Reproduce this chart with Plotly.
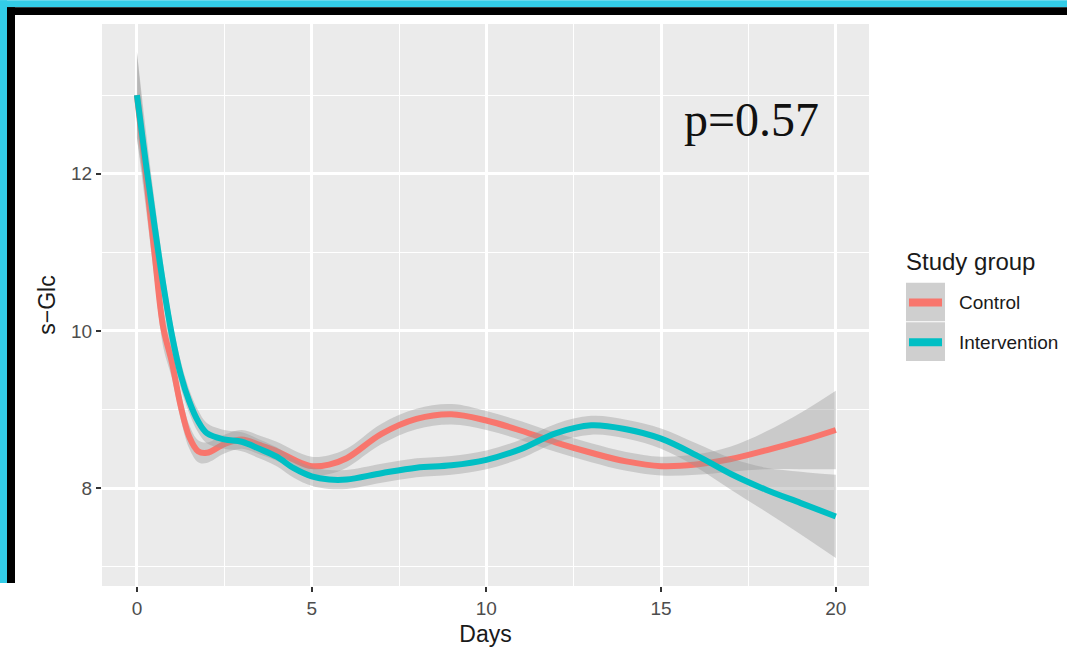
import plotly.graph_objects as go

# ---- data ----
days = [0, 0.25, 0.5, 0.75, 1, 1.25, 1.5, 1.75, 2, 2.5, 3, 3.5, 4, 4.5, 5, 5.5, 6,
        7, 8, 9, 10, 11, 12, 13, 14, 15, 16, 17, 18, 19, 20]

control = [13.0, 12.0, 11.0, 10.05, 9.6, 9.05, 8.65, 8.47, 8.45, 8.56, 8.62, 8.55,
           8.47, 8.36, 8.28, 8.3, 8.38, 8.69, 8.88, 8.94, 8.86, 8.73, 8.58, 8.45,
           8.34, 8.28, 8.3, 8.37, 8.48, 8.6, 8.74]
control_se = [0.55, 0.42, 0.32, 0.25, 0.2, 0.17, 0.15, 0.14, 0.13, 0.12, 0.12, 0.12,
              0.12, 0.12, 0.12, 0.12, 0.12, 0.13, 0.13, 0.13, 0.12, 0.12, 0.12, 0.12,
              0.12, 0.12, 0.13, 0.16, 0.24, 0.36, 0.5]

intervention = [13.0, 12.15, 11.35, 10.6, 9.95, 9.45, 9.1, 8.85, 8.7, 8.62, 8.59, 8.5,
                8.4, 8.25, 8.15, 8.11, 8.11, 8.19, 8.26, 8.29, 8.36, 8.5, 8.7, 8.8,
                8.75, 8.63, 8.42, 8.18, 7.98, 7.81, 7.64]
intervention_se = [0.55, 0.42, 0.32, 0.25, 0.2, 0.17, 0.15, 0.14, 0.13, 0.12, 0.12, 0.12,
                   0.12, 0.12, 0.12, 0.12, 0.12, 0.12, 0.12, 0.12, 0.12, 0.12, 0.12, 0.12,
                   0.12, 0.13, 0.15, 0.2, 0.28, 0.4, 0.53]

groups = ["Control", "Intervention"]
colors = ["#F8766D", "#00BFC4"]
legend_title = "Study group"
x_ticks = [0, 5, 10, 15, 20]
y_ticks = [8, 10, 12]
p_label = "p=0.57"

W, H = 1070, 655
L, R, T, B = 102, 869, 24, 591

fig = go.Figure()
ribbon = "rgba(153,153,153,0.4)"
for name, y, se, col in [(groups[0], control, control_se, colors[0]),
                         (groups[1], intervention, intervention_se, colors[1])]:
    lo = [a - b for a, b in zip(y, se)]
    hi = [a + b for a, b in zip(y, se)]
    fig.add_trace(go.Scatter(x=days, y=lo, mode="lines", line=dict(width=0, shape="spline"),
                             showlegend=False, hoverinfo="skip"))
    fig.add_trace(go.Scatter(x=days, y=hi, mode="lines", line=dict(width=0, shape="spline"),
                             fill="tonexty", fillcolor=ribbon, showlegend=False,
                             hoverinfo="skip"))
    fig.add_trace(go.Scatter(x=days, y=y, mode="lines", name=name, showlegend=False,
                             line=dict(color=col, width=6, shape="spline")))

def px_x(p):
    return (p - L) / (R - L)

def px_y(p):
    return (B - p) / (B - T)

def rect(x0, x1, y0, y1, color):
    return dict(type="rect", xref="paper", yref="paper", x0=px_x(x0), x1=px_x(x1),
                y0=px_y(y1), y1=px_y(y0), fillcolor=color, line=dict(width=0), layer="above")

shapes = [
    rect(0, W - 3, 0, 7, "#33CDE8"),
    rect(0, 7, 0, 588, "#33CDE8"),
    rect(7, W - 3, 7, 15, "#000000"),
    rect(7, 15, 7, 588, "#000000"),
]
# custom legend (ggplot style keys)
key_top = [285, 325]
for i, (name, col) in enumerate(zip(groups, colors)):
    y0 = key_top[i]
    shapes.append(rect(906, 945, y0, y0 + 39, "#CFCFCF"))
    shapes.append(rect(909, 942, y0 + 16, y0 + 24, col))
    fig.add_annotation(xref="paper", yref="paper", x=px_x(957), y=px_y(y0 + 20),
                       xanchor="left", yanchor="middle", text=name, showarrow=False,
                       font=dict(size=19, color="#1A1A1A"))
fig.add_annotation(xref="paper", yref="paper", x=px_x(904), y=px_y(264),
                   xanchor="left", yanchor="middle", text=legend_title, showarrow=False,
                   font=dict(size=24, color="#1A1A1A"))
fig.update_layout(shapes=shapes)

fig.add_annotation(x=17.6, y=12.69, xref="x", yref="y", text=p_label, showarrow=False,
                   font=dict(family="Liberation Serif", size=48, color="#111111"))

fig.update_layout(
    width=W, height=H, showlegend=False,
    margin=dict(l=L, r=W - R, t=T, b=H - B, pad=0),
    paper_bgcolor="white", plot_bgcolor="#EBEBEB",
    font=dict(family="Liberation Sans, Arial", color="#4D4D4D"),
    xaxis=dict(range=[-1.0, 20.95], tickvals=x_ticks, ticks="outside", ticklen=5, tickwidth=2,
               tickcolor="#333333", showgrid=True, gridcolor="white", gridwidth=2.5,
               minor=dict(dtick=2.5, showgrid=True, gridcolor="white", gridwidth=1.2),
               zeroline=False, showline=False, tickfont=dict(size=19, color="#4D4D4D"),
               title=dict(text="Days", font=dict(size=23, color="#1A1A1A"), standoff=8)),
    yaxis=dict(range=[6.755, 13.905], tickvals=y_ticks, ticks="outside", ticklen=5, tickwidth=2,
               tickcolor="#333333", showgrid=True, gridcolor="white", gridwidth=2.5,
               minor=dict(dtick=1, showgrid=True, gridcolor="white", gridwidth=1.2),
               zeroline=False, showline=False, tickfont=dict(size=19, color="#4D4D4D"),
               title=dict(text="s\u2212Glc", font=dict(size=23, color="#1A1A1A"), standoff=9)),
)

fig.write_html("out.html", config={"displayModeBar": False},
               post_script="document.body.style.margin='0';")
